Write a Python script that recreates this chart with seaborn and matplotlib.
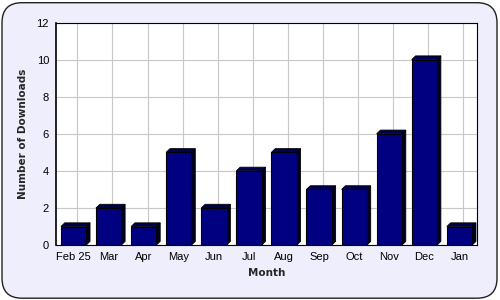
import matplotlib
matplotlib.use("Agg")
import matplotlib.pyplot as plt
import seaborn as sns
import pandas as pd
from matplotlib.patches import Polygon, FancyBboxPatch

months = ["Feb 25", "Mar", "Apr", "May", "Jun", "Jul", "Aug", "Sep", "Oct", "Nov", "Dec", "Jan"]
downloads = [1, 2, 1, 5, 2, 4, 5, 3, 3, 6, 10, 1]
y_ticks = [0, 2, 4, 6, 8, 10, 12]

sns.set_style("white")
plt.rcParams["font.family"] = ["Liberation Sans", "DejaVu Sans"]

fig = plt.figure(figsize=(5, 3), dpi=100)
fig.patch.set_facecolor("white")
bg = FancyBboxPatch((0.004, 0.006), 0.99, 0.985, boxstyle="round,pad=0,rounding_size=0.04",
                    transform=fig.transFigure, facecolor="#EEEEFC", edgecolor="#222222",
                    linewidth=1.0, mutation_aspect=5/3, zorder=-10)
fig.patches.append(bg)

ax = fig.add_axes([0.112, 0.183, 0.842, 0.742])
ax.set_zorder(1)
df = pd.DataFrame({"Month": months, "Downloads": downloads})
sns.barplot(data=df, x="Month", y="Downloads", color="#000080", saturation=1,
            width=0.72, edgecolor="black", linewidth=0.8, ax=ax, zorder=3)

dx, dy = 0.11, 0.2
for p in list(ax.patches):
    x0 = p.get_x(); w = p.get_width(); h = p.get_height(); x1 = x0 + w
    side = Polygon([(x1, 0), (x1 + dx, dy), (x1 + dx, h + dy), (x1, h)],
                   closed=True, facecolor="#000020", edgecolor="black", linewidth=0.6, zorder=2.9)
    top = Polygon([(x0, h), (x0 + dx, h + dy), (x1 + dx, h + dy), (x1, h)],
                  closed=True, facecolor="#000050", edgecolor="black", linewidth=0.6, zorder=3.1)
    ax.add_patch(side); ax.add_patch(top)

ax.set_xlim(-0.5, len(months) - 0.5)
ax.set_ylim(0, 12)
ax.set_yticks(y_ticks)
ax.set_facecolor("white")
ax.grid(True, axis="y", color="#C8C8C8", linewidth=0.8, zorder=0)
for i in range(len(months)):
    ax.axvline(i + dx, color="#C8C8C8", linewidth=0.8, zorder=0)
ax.set_axisbelow(True)
for s in ax.spines.values():
    s.set_color("black"); s.set_linewidth(0.8)
ax.spines["left"].set_linewidth(1.2)
ax.tick_params(axis="both", which="both", direction="out", length=3, width=0.8,
               labelsize=8, colors="black", pad=2)
ax.set_xlabel("Month", fontsize=7.5, fontweight="bold", labelpad=4.5,
              family=["DejaVu Sans"])
ax.set_ylabel("Number of Downloads", fontsize=7.5, fontweight="bold", labelpad=6,
              family=["DejaVu Sans"])

fig.savefig("out.png", dpi=100)
